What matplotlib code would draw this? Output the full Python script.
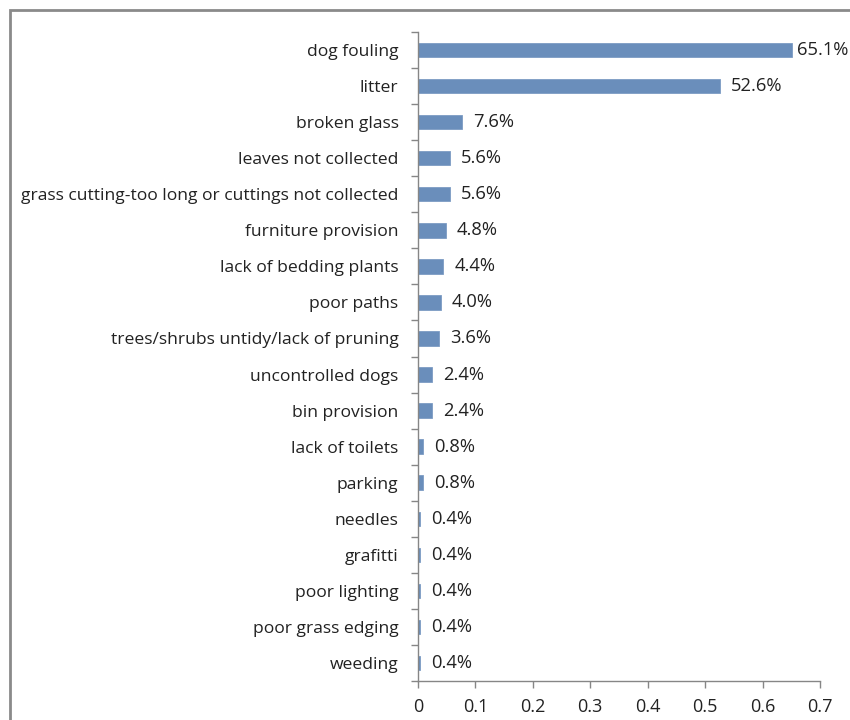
import matplotlib
matplotlib.use("Agg")
import matplotlib.pyplot as plt
from matplotlib.patches import Rectangle
from matplotlib.ticker import FixedLocator, NullFormatter

categories = [
    "dog fouling", "litter", "broken glass", "leaves not collected",
    "grass cutting-too long or cuttings not collected", "furniture provision",
    "lack of bedding plants", "poor paths", "trees/shrubs untidy/lack of pruning",
    "uncontrolled dogs", "bin provision", "lack of toilets", "parking",
    "needles", "grafitti", "poor lighting", "poor grass edging", "weeding",
]
values = [0.651, 0.526, 0.076, 0.056, 0.056, 0.048, 0.044, 0.040, 0.036,
          0.024, 0.024, 0.008, 0.008, 0.004, 0.004, 0.004, 0.004, 0.004]
x_ticks = [0, 0.1, 0.2, 0.3, 0.4, 0.5, 0.6, 0.7]
x_tick_labels = ["0", "0.1", "0.2", "0.3", "0.4", "0.5", "0.6", "0.7"]

plt.rcParams["font.family"] = ["Open Sans", "DejaVu Sans"]

fig = plt.figure(figsize=(8.5, 7.2), dpi=100)
fig.patch.set_facecolor("white")

# outer chart frame (runs off the right and bottom edges)
fig.patches.append(Rectangle((10 / 850, -0.1), 1.2, 1.1 - 10 / 720,
                             transform=fig.transFigure, fill=False,
                             edgecolor="#8a8a8a", linewidth=2.0))

ax = fig.add_axes([418 / 850, 1 - 681 / 720, (820 - 418) / 850, (681 - 32) / 720])

n = len(categories)
ypos = list(range(n))
ax.barh(ypos, values, height=0.4, color="#6A8EBB", edgecolor="#7C9CC4", linewidth=0.6)

xmax = 0.7
for y, v in zip(ypos, values):
    # labels near the right edge sit closer to their bar so they stay in view
    off = 4 if v > 0.6 else 8
    ax.annotate(f"{v * 100:.1f}%", (v, y), xytext=(off, 0), textcoords="offset points",
                va="center", ha="left", fontsize=13.2, color="#222222")

ax.set_ylim(n - 0.5, -0.5)
ax.set_xlim(0, xmax)

ax.set_yticks(ypos)
ax.set_yticklabels(categories, fontsize=12.6, color="#222222")
ax.yaxis.set_minor_locator(FixedLocator([i - 0.5 for i in range(n + 1)]))
ax.yaxis.set_minor_formatter(NullFormatter())
ax.tick_params(axis="y", which="major", length=0, pad=14)
ax.tick_params(axis="y", which="minor", length=5, color="#868686", width=1)

ax.set_xticks(x_ticks)
ax.set_xticklabels(x_tick_labels, fontsize=13, color="#222222")
ax.tick_params(axis="x", length=5, color="#868686", width=1, pad=7)

for side in ("top", "right"):
    ax.spines[side].set_visible(False)
for side in ("left", "bottom"):
    ax.spines[side].set_color("#868686")
    ax.spines[side].set_linewidth(1)

fig.savefig("out.png", dpi=100, facecolor="white")
